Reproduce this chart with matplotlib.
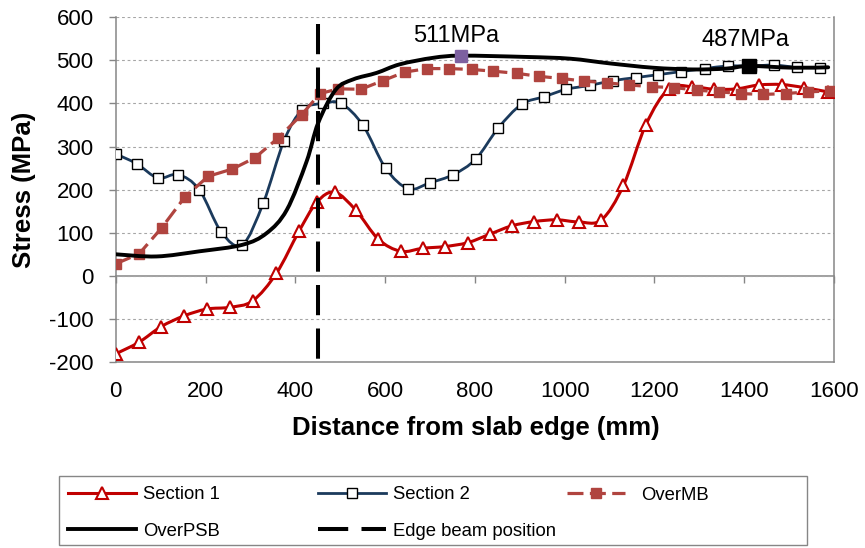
import numpy as np
import matplotlib
matplotlib.use("Agg")
import matplotlib.pyplot as plt
from matplotlib.lines import Line2D
from matplotlib.patches import PathPatch, Rectangle
from matplotlib.path import Path

plt.rcParams["font.family"] = ["Liberation Sans", "DejaVu Sans"]
plt.rcParams["axes.unicode_minus"] = False

# distance from slab edge (mm) / stress (MPa)
s1_x = [0, 52, 101, 152, 203, 254, 305, 358, 408, 448, 488, 535, 585, 635, 684, 733,
        784, 834, 882, 932, 982, 1032, 1082, 1131, 1181, 1232, 1284, 1333, 1383, 1433,
        1483, 1533, 1586]
s1_y = [-181, -154, -118, -93, -77, -73, -58, 6, 103, 171, 194, 152, 85, 57, 64, 68,
        77, 97, 116, 126, 130, 125, 130, 210, 351, 434, 439, 433, 434, 443,
        444, 437, 427]

s2_x = [0, 47, 94, 139, 186, 235, 282, 329, 375, 416, 461, 502, 551, 601, 652, 700,
        752, 802, 852, 904, 955, 1004, 1056, 1107, 1158, 1209, 1259, 1312, 1363, 1414,
        1466, 1518, 1569]
s2_y = [283, 260, 227, 235, 200, 102, 72, 170, 314, 386, 400, 400, 349, 250, 202, 216,
        235, 271, 343, 398, 416, 433, 442, 453, 460, 467, 474, 481, 487, 487,
        489, 484, 483]

mb_x = [0, 52, 102, 154, 206, 260, 310, 362, 414, 455, 496, 546, 595, 644, 694, 743,
        793, 841, 893, 943, 993, 1043, 1094, 1143, 1194, 1244, 1294, 1344, 1393, 1442,
        1492, 1541, 1591]
mb_y = [28, 51, 111, 183, 231, 248, 274, 320, 374, 423, 434, 433, 453, 473, 481, 481,
        479, 475, 470, 463, 458, 452, 448, 443, 439, 437, 431, 427, 423, 421,
        423, 427, 429]

psb_x = [0, 91, 187, 282, 336, 381, 425, 451, 490, 529, 581, 633, 707, 770, 915, 1012,
         1101, 1197, 1286, 1360, 1410, 1509, 1587]
psb_y = [50, 45, 57, 72, 99, 153, 265, 355, 432, 456, 471, 491, 506, 511, 508, 504,
         493, 483, 479, 481, 487, 483, 484]

beam_x = [450, 450]
beam_y = [585, -200]

peak_x, peak_y = 770, 511
end_x, end_y = 1410, 487

x_ticks = list(range(0, 1601, 200))
y_ticks = list(range(-200, 601, 100))


def smooth_path(x, y):
    """Bezier path through the points (Excel style smoothed line)."""
    pts = np.column_stack([x, y]).astype(float)
    n = len(pts)
    verts = [pts[0]]
    codes = [Path.MOVETO]
    for i in range(n - 1):
        p0 = pts[i - 1] if i > 0 else pts[i]
        p1, p2 = pts[i], pts[i + 1]
        p3 = pts[i + 2] if i + 2 < n else pts[i + 1]
        verts += [p1 + (p2 - p0) / 6.0, p2 - (p3 - p1) / 6.0, p2]
        codes += [Path.CURVE4] * 3
    return Path(verts, codes)


GRAY = "#868686"
s1_style = dict(color="#C00000", lw=2.2, marker="^", ms=8, mfc="white", mec="#C00000", mew=1.5)
s2_style = dict(color="#1B3A5C", lw=2.0, marker="s", ms=6.5, mfc="white", mec="black", mew=1.0)
mb_style = dict(color="#B0443F", lw=2.3, ls=(0, (5, 2)), marker="s", ms=7, mfc="#B0443F", mec="#B0443F")
psb_style = dict(color="black", lw=2.8)
beam_style = dict(color="black", lw=2.9, ls=(0, (7.5, 3.3)))

fig = plt.figure(figsize=(8.65, 5.48), dpi=100)
ax = fig.add_axes([0.1338, 0.3394, 0.8304, 0.6290])
ax.set_xlim(0, 1600)
ax.set_ylim(-200, 600)

# smoothed series
ax.add_patch(PathPatch(smooth_path(s1_x, s1_y), fill=False, ec=s1_style["color"],
                       lw=s1_style["lw"], zorder=3))
ax.plot(s1_x, s1_y, ls="none", marker="^", ms=8, mfc="white", mec="#C00000", mew=1.5, zorder=3.1)

ax.add_patch(PathPatch(smooth_path(s2_x, s2_y), fill=False, ec=s2_style["color"],
                       lw=s2_style["lw"], zorder=4))
ax.plot(s2_x, s2_y, ls="none", marker="s", ms=6.5, mfc="white", mec="black", mew=1.0, zorder=4.1)

ax.plot(mb_x, mb_y, zorder=5, **mb_style)

ax.add_patch(PathPatch(smooth_path(psb_x, psb_y), fill=False, ec="black",
                       lw=psb_style["lw"], capstyle="round", zorder=6))

ax.plot(beam_x, beam_y, zorder=7, **beam_style)

# highlighted values
ax.plot([peak_x], [peak_y], ls="none", marker="s", ms=9, color="#7D60A0", zorder=8)
ax.plot([end_x], [end_y], ls="none", marker="s", ms=9.5, color="black", zorder=8)
ax.annotate(f"{peak_y}MPa", (peak_x, peak_y), xytext=(-5, 20), textcoords="offset pixels",
            ha="center", va="center", fontsize=17)
ax.annotate(f"{end_y}MPa", (end_x, end_y), xytext=(-3, 26), textcoords="offset pixels",
            ha="center", va="center", fontsize=17)

# axes styling
ax.set_xticks(x_ticks)
ax.set_yticks(y_ticks)
ax.tick_params(axis="x", length=0, pad=13.5, labelsize=16)
ax.tick_params(axis="y", length=5, width=1, color=GRAY, pad=11, labelsize=16)
ax.yaxis.grid(True, ls=(0, (2.5, 2.5)), color="#A6A6A6", lw=0.8)
ax.set_axisbelow(True)
ax.spines["top"].set_visible(False)
for side in ("left", "right", "bottom"):
    ax.spines[side].set_color(GRAY)
    ax.spines[side].set_linewidth(1.1)

# horizontal axis crossing at zero stress
zero_ax = ax.secondary_xaxis(200 / 800)
zero_ax.set_xticks(x_ticks)
zero_ax.tick_params(axis="x", direction="out", length=5, width=1, color=GRAY, labelbottom=False,
                    labeltop=False)
zero_ax.spines["bottom"].set_color(GRAY)
zero_ax.spines["bottom"].set_linewidth(1.1)

fig.text(24 / 865, 1 - 190 / 548, "Stress (MPa)", rotation=90, ha="center", va="center",
         fontsize=18.5, fontweight="bold")
fig.text(475.5 / 865, 1 - 428 / 548, "Distance from slab edge (mm)", ha="center", va="center",
         fontsize=18.5, fontweight="bold")

# legend: three columns inside one frame
h_s1 = Line2D([], [], **s1_style)
h_s2 = Line2D([], [], **s2_style)
h_mb = Line2D([], [], **mb_style)
h_psb = Line2D([], [], **psb_style)
h_beam = Line2D([], [], **beam_style)

leg_kw = dict(frameon=False, borderpad=0, borderaxespad=0, fontsize=13.3, numpoints=1,
              loc="center left", labelspacing=1.05)
y_leg = 1 - 513 / 548
columns = [
    ([h_s1, h_psb], ["Section 1", "OverPSB"], 68, 3.7, 0.37),
    ([h_s2, h_beam], ["Section 2", "Edge beam position"], 318, 3.7, 0.37),
    ([h_mb], ["OverMB"], 567, 3.15, 0.85),
]
for handles, labels, x0, hl, htp in columns:
    y0 = y_leg if len(handles) > 1 else 1 - 495 / 548
    fig.legend(handles, labels, bbox_to_anchor=(x0 / 865, y0),
               handlelength=hl, handletextpad=htp, **leg_kw)
fig.patches.append(Rectangle((59 / 865, 1 - 545 / 548), 748 / 865, 69 / 548, fill=False,
                             ec=GRAY, lw=1, transform=fig.transFigure, figure=fig))

fig.savefig("out.png", dpi=100, facecolor="white")
